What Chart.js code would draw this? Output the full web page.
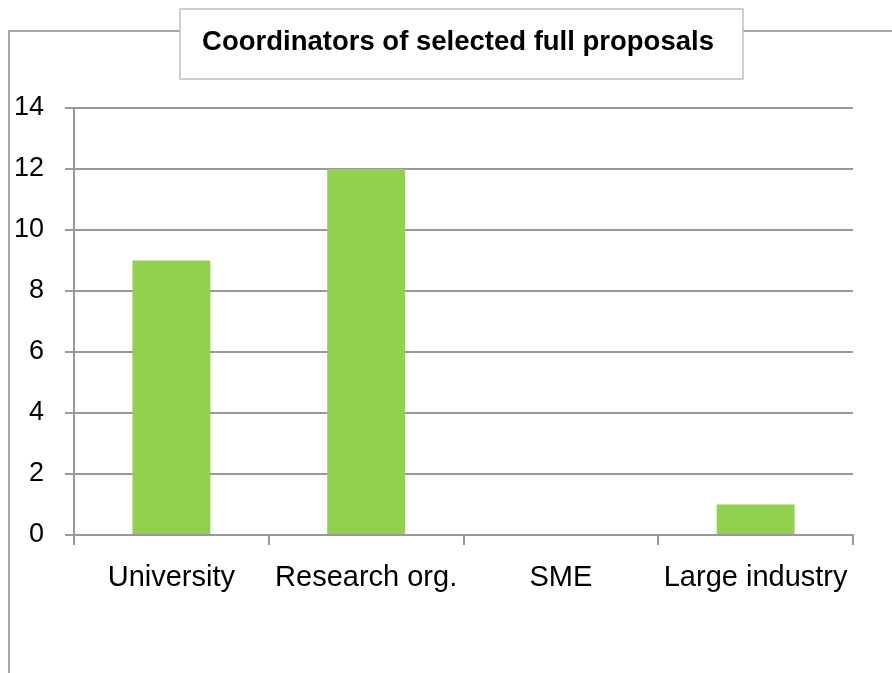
<!DOCTYPE html>
<html>
<head>
<meta charset="utf-8">
<script src="https://cdn.jsdelivr.net/npm/chart.js@4/dist/chart.umd.min.js"></script>
<style>
  html, body { margin: 0; padding: 0; background: #fff; }
  #wrap { width: 892px; height: 673px; }
</style>
</head>
<body>
<div id="wrap"><canvas id="coordChart" width="892" height="673"></canvas></div>
<script>
  // Data
  const categories = ["University", "Research org.", "SME", "Large industry"];
  const coordinators = [9, 12, 0, 1];
  const yTicks = [0, 2, 4, 6, 8, 10, 12, 14];
  const chartTitle = "Coordinators of selected full proposals";

  // --------------------
  // Outer frame + title box (title sits off-centre, like the original)
  // --------------------
  const framePlugin = {
    id: "frame",
    beforeDraw(chart) {
      const c = chart.ctx;
      c.save();
      c.fillStyle = "#fff";
      c.fillRect(0, 0, chart.width, chart.height);
      c.strokeStyle = "#8a8a8a";
      c.lineWidth = 1.5;
      c.beginPath();
      c.moveTo(9, chart.height);
      c.lineTo(9, 31);
      c.lineTo(chart.width, 31);
      c.stroke();
      // title box
      c.fillStyle = "#fff";
      c.fillRect(180, 9, 563, 70);
      c.strokeStyle = "#c0c0c0";
      c.lineWidth = 1.5;
      c.strokeRect(180, 9, 563, 70);
      // title text
      c.fillStyle = "#000";
      c.font = "bold 27.5px 'Liberation Sans', Arial, sans-serif";
      c.textAlign = "center";
      c.textBaseline = "middle";
      c.fillText(chartTitle, 458, 42);
      c.restore();
    },
  };

  const ctx = document.getElementById("coordChart").getContext("2d");

  new Chart(ctx, {
    type: "bar",
    data: {
      labels: categories,
      datasets: [
        {
          label: "Coordinators",
          data: coordinators,
          backgroundColor: "#92d050",
          borderWidth: 0,
          categoryPercentage: 1,
          barPercentage: 0.4,
        },
      ],
    },
    options: {
      responsive: false,
      animation: false,
      events: [],
      layout: { padding: { left: 0, right: 39, top: 108, bottom: 0 } },
      plugins: {
        legend: { display: false },
        tooltip: { enabled: false },
        title: { display: false },
      },
      scales: {
        x: {
          grid: { display: true, offset: true, drawOnChartArea: false, drawTicks: true, tickLength: 10, color: "#999", lineWidth: 2 },
          border: { display: true, color: "#999", width: 2 },
          ticks: {
            color: "#000",
            padding: 16,
            maxRotation: 0,
            autoSkip: false,
            font: { family: "'Liberation Sans', Arial, sans-serif", size: 29 },
          },
          afterFit(scale) { scale.height = 138; },
        },
        y: {
          min: 0,
          max: 14,
          afterBuildTicks(scale) { scale.ticks = yTicks.map((v) => ({ value: v })); },
          grid: { color: "#999", lineWidth: 2, tickLength: 9, drawTicks: true },
          border: { display: true, color: "#999", width: 2 },
          ticks: {
            color: "#000",
            padding: 21,
            font: { family: "'Liberation Sans', Arial, sans-serif", size: 27 },
          },
          afterFit(scale) { scale.width = 74; },
        },
      },
    },
    plugins: [framePlugin],
  });
</script>
</body>
</html>
